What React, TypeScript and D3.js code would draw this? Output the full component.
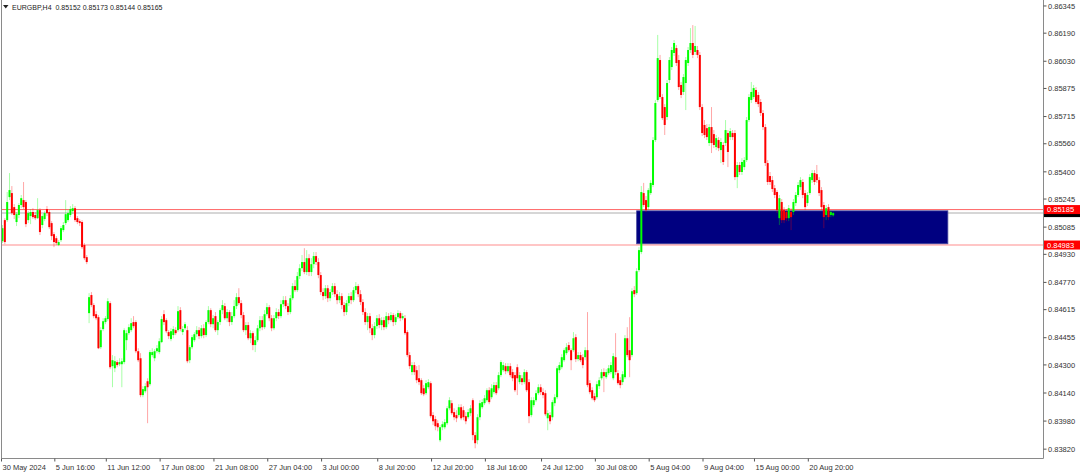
import * as d3 from 'd3';
import { useEffect, useRef } from 'react';

const WIDTH = 1080;
const HEIGHT = 473;
const BAR_SPACING = 2.34;

const SYMBOL = 'EURGBP,H4';
const LAST_OHLC = ['0.85152', '0.85173', '0.85144', '0.85165'];

// H4 candles (bar 0 = 30 May 2024 20:00)
const opens = [
    0.85005, 0.85125, 0.85125, 0.85256, 0.85279, 0.85199, 0.85114, 0.85154, 0.85211, 0.85239,
    0.85228, 0.85125, 0.85148, 0.85171, 0.85154, 0.85136, 0.85182, 0.85097, 0.85131, 0.85188,
    0.85171, 0.85108, 0.85045, 0.85022, 0.84983, 0.85011, 0.85068, 0.85108, 0.85125, 0.85154,
    0.85176, 0.85193, 0.85136, 0.85119, 0.85114, 0.84983, 0.84914, 0.84595, 0.84698, 0.84641,
    0.84589, 0.84572, 0.84401, 0.84504, 0.84544, 0.84561, 0.84652, 0.84293, 0.84281, 0.84316,
    0.84304, 0.84304, 0.84316, 0.84441, 0.84481, 0.84498, 0.84544, 0.84544, 0.84378, 0.84338,
    0.84128, 0.8415, 0.84207, 0.8419, 0.84356, 0.84338, 0.84378, 0.84373, 0.8443, 0.84589,
    0.84555, 0.84487, 0.84447, 0.8447, 0.84498, 0.84498, 0.84612, 0.84487, 0.84509, 0.84498,
    0.84327, 0.84401, 0.84441, 0.84475, 0.84498, 0.84464, 0.84509, 0.8447, 0.84544, 0.84612,
    0.84532, 0.84578, 0.84498, 0.84544, 0.84612, 0.84635, 0.84566, 0.84601, 0.84544, 0.84578,
    0.84635, 0.84686, 0.84652, 0.84584, 0.84498, 0.84527, 0.84452, 0.84481, 0.84413, 0.84441,
    0.84509, 0.84555, 0.84515, 0.84589, 0.84629, 0.84566, 0.84509, 0.84566, 0.84601, 0.84578,
    0.84646, 0.84669, 0.84635, 0.84601, 0.8468, 0.84749, 0.84726, 0.84806, 0.84851, 0.84886,
    0.84829, 0.84908, 0.84829, 0.84874, 0.8492, 0.84886, 0.84812, 0.84715, 0.84692, 0.84737,
    0.8468, 0.84715, 0.84749, 0.84703, 0.84669, 0.84692, 0.84641, 0.84601, 0.84652, 0.84692,
    0.84669, 0.84726, 0.84749, 0.84703, 0.84658, 0.84601, 0.84544, 0.84578, 0.84509, 0.8447,
    0.84521, 0.84566, 0.84527, 0.84555, 0.84515, 0.84578, 0.84555, 0.84584, 0.84544, 0.84572,
    0.84595, 0.84566, 0.84566, 0.84487, 0.84356, 0.84259, 0.84299, 0.8427, 0.84224, 0.84213,
    0.84167, 0.84139, 0.84173, 0.84196, 0.84014, 0.83991, 0.83968, 0.83871, 0.83945, 0.83945,
    0.83968, 0.84053, 0.84082, 0.84031, 0.84014, 0.84014, 0.84059, 0.84042, 0.84008, 0.84002,
    0.84025, 0.84099, 0.839, 0.83871, 0.84002, 0.84059, 0.84082, 0.84099, 0.84156, 0.84116,
    0.84145, 0.84185, 0.84167, 0.84242, 0.8427, 0.84293, 0.84264, 0.84293, 0.84259, 0.84242,
    0.84287, 0.84202, 0.84224, 0.84202, 0.84259, 0.84202, 0.84014, 0.84071, 0.84099, 0.84139,
    0.84173, 0.84145, 0.84139, 0.83996, 0.84014, 0.84002, 0.84082, 0.84116, 0.8427, 0.84287,
    0.84327, 0.84367, 0.84413, 0.84384, 0.84384, 0.84458, 0.84333, 0.84356, 0.84344, 0.84344,
    0.84384, 0.84196, 0.84156, 0.84122, 0.84116, 0.84179, 0.84224, 0.84259, 0.8423, 0.84253,
    0.84259, 0.84224, 0.84344, 0.84253, 0.84213, 0.84202, 0.8423, 0.84452, 0.84384, 0.84356,
    0.84726, 0.84709, 0.8484, 0.84943, 0.85279, 0.85239, 0.85199, 0.85279, 0.85325, 0.85581,
    0.85809, 0.86037, 0.85826, 0.85769, 0.85712, 0.85923, 0.85997, 0.86077, 0.86105, 0.86037,
    0.85895, 0.85855, 0.85906, 0.8602, 0.86094, 0.86134, 0.86083, 0.86094, 0.86066, 0.85769,
    0.85667, 0.85649, 0.85564, 0.85655, 0.85615, 0.85541, 0.85581, 0.85524, 0.85553, 0.85564,
    0.85621, 0.85598, 0.85621, 0.85621, 0.8537, 0.85439, 0.85399, 0.85427, 0.85467, 0.85695,
    0.85809, 0.85826, 0.85866, 0.85838, 0.85798, 0.85735, 0.85655, 0.8545, 0.85376, 0.85353,
    0.85307, 0.85285, 0.85136, 0.85228, 0.85182, 0.85171, 0.85136, 0.85171, 0.85171, 0.85222,
    0.85268, 0.85313, 0.85342, 0.85279, 0.85222, 0.85279, 0.85353, 0.85393, 0.85387, 0.85353,
    0.85296, 0.85211, 0.85154, 0.85199, 0.85154, 0.85152,
];

const highs = [
    0.85097, 0.85136, 0.85285, 0.85393, 0.85319, 0.85216, 0.85171, 0.85222, 0.85268, 0.85342,
    0.85239, 0.85176, 0.85188, 0.85193, 0.85171, 0.8525, 0.85193, 0.85159, 0.85176, 0.85205,
    0.85182, 0.85119, 0.85057, 0.85034, 0.85011, 0.85091, 0.85114, 0.85239, 0.85182, 0.85205,
    0.85216, 0.85205, 0.85148, 0.85131, 0.85125, 0.84994, 0.84926, 0.84709, 0.84715, 0.84652,
    0.84606, 0.84584, 0.84515, 0.84566, 0.84578, 0.8468, 0.84663, 0.84356, 0.8435, 0.84327,
    0.84338, 0.84338, 0.84509, 0.84498, 0.84532, 0.84566, 0.84578, 0.84555, 0.84395, 0.84367,
    0.84179, 0.84196, 0.84224, 0.84384, 0.84395, 0.8439, 0.84413, 0.84452, 0.84578, 0.84612,
    0.84566, 0.84498, 0.84509, 0.84521, 0.84515, 0.84635, 0.84629, 0.84521, 0.84544, 0.84521,
    0.84413, 0.8447, 0.84487, 0.84521, 0.84515, 0.84527, 0.84532, 0.84555, 0.84635, 0.84623,
    0.84584, 0.84601, 0.84555, 0.84623, 0.84669, 0.84652, 0.84618, 0.84612, 0.84601, 0.84669,
    0.84709, 0.84737, 0.84669, 0.84601, 0.84544, 0.84544, 0.84498, 0.84492, 0.84464, 0.84527,
    0.84578, 0.84578, 0.84612, 0.84652, 0.84641, 0.84584, 0.84584, 0.84623, 0.84618, 0.84669,
    0.84692, 0.84692, 0.84652, 0.84698, 0.84766, 0.84783, 0.84829, 0.84874, 0.84926, 0.84965,
    0.84954, 0.84931, 0.84908, 0.84943, 0.84943, 0.84908, 0.84829, 0.84737, 0.84755, 0.84755,
    0.84732, 0.84766, 0.84766, 0.84726, 0.84715, 0.84709, 0.84658, 0.84669, 0.84709, 0.84715,
    0.84743, 0.84772, 0.8476, 0.84726, 0.84675, 0.84623, 0.84595, 0.84595, 0.84532, 0.84544,
    0.84584, 0.84589, 0.84572, 0.84572, 0.84601, 0.84595, 0.84601, 0.84595, 0.84589, 0.84612,
    0.84606, 0.84595, 0.84584, 0.84498, 0.84373, 0.84316, 0.84316, 0.84293, 0.84299, 0.84224,
    0.84185, 0.84213, 0.84219, 0.84207, 0.84031, 0.84008, 0.83985, 0.83957, 0.83979, 0.83991,
    0.84065, 0.84116, 0.84099, 0.84053, 0.84042, 0.84076, 0.84076, 0.84065, 0.84031, 0.84048,
    0.84071, 0.8411, 0.83917, 0.84019, 0.84099, 0.84105, 0.84128, 0.84167, 0.84173, 0.8419,
    0.84202, 0.84202, 0.84259, 0.84327, 0.84316, 0.8431, 0.8431, 0.8431, 0.84276, 0.84259,
    0.84304, 0.84259, 0.84242, 0.84276, 0.8427, 0.84219, 0.84116, 0.84116, 0.84156, 0.8419,
    0.8419, 0.84167, 0.84156, 0.84042, 0.84031, 0.84099, 0.84133, 0.84293, 0.84316, 0.84361,
    0.84395, 0.84424, 0.8443, 0.84395, 0.84487, 0.84475, 0.84373, 0.84373, 0.84361, 0.84401,
    0.84601, 0.84213, 0.84173, 0.84139, 0.84207, 0.8423, 0.84276, 0.84281, 0.84276, 0.84299,
    0.84316, 0.84367, 0.84481, 0.8427, 0.8423, 0.84264, 0.8447, 0.84515, 0.84572, 0.84737,
    0.84749, 0.84851, 0.84971, 0.85319, 0.85337, 0.85262, 0.85307, 0.85353, 0.85598, 0.85809,
    0.8618, 0.86066, 0.85843, 0.85786, 0.85923, 0.86054, 0.86111, 0.86151, 0.86122, 0.86066,
    0.85912, 0.85957, 0.86054, 0.86111, 0.86219, 0.86236, 0.86231, 0.86117, 0.86083, 0.85786,
    0.85695, 0.85672, 0.85672, 0.85769, 0.85638, 0.8561, 0.85598, 0.85592, 0.8557, 0.85695,
    0.85638, 0.85649, 0.85638, 0.85638, 0.85456, 0.85456, 0.85478, 0.85484, 0.85712, 0.85843,
    0.85912, 0.85895, 0.85883, 0.85855, 0.85815, 0.85752, 0.85672, 0.85467, 0.85399, 0.85376,
    0.85325, 0.85296, 0.85268, 0.85245, 0.85199, 0.85188, 0.85211, 0.85193, 0.85245, 0.85285,
    0.85342, 0.8537, 0.85359, 0.85296, 0.85285, 0.85387, 0.8541, 0.8541, 0.85439, 0.8537,
    0.85313, 0.85228, 0.85211, 0.85216, 0.85182, 0.85173,
];

const lows = [
    0.84994, 0.84988, 0.85114, 0.85239, 0.85154, 0.85131, 0.85091, 0.85136, 0.85193, 0.85188,
    0.85085, 0.85108, 0.85102, 0.85131, 0.85125, 0.85131, 0.8504, 0.85079, 0.85119, 0.85148,
    0.85074, 0.85011, 0.84971, 0.84983, 0.84977, 0.85, 0.85057, 0.85097, 0.85114, 0.85142,
    0.85159, 0.85114, 0.85102, 0.85091, 0.8496, 0.84897, 0.84874, 0.84538, 0.84629, 0.84566,
    0.84555, 0.8439, 0.8439, 0.84492, 0.84532, 0.84549, 0.84276, 0.84173, 0.84259, 0.84287,
    0.84293, 0.84173, 0.84304, 0.84384, 0.8447, 0.84487, 0.84509, 0.84367, 0.84316, 0.84116,
    0.84116, 0.84139, 0.83968, 0.84179, 0.84344, 0.84321, 0.84367, 0.84361, 0.84424, 0.84527,
    0.84481, 0.84447, 0.84435, 0.84452, 0.8447, 0.84487, 0.84492, 0.8447, 0.84498, 0.8431,
    0.8431, 0.8439, 0.8443, 0.84458, 0.84447, 0.84452, 0.84452, 0.84458, 0.84532, 0.84515,
    0.84509, 0.84487, 0.8447, 0.84527, 0.84589, 0.84555, 0.84544, 0.84521, 0.84527, 0.84566,
    0.84618, 0.84641, 0.84566, 0.84487, 0.8447, 0.84441, 0.84424, 0.84384, 0.84373, 0.8443,
    0.84492, 0.84498, 0.84504, 0.84578, 0.84549, 0.84492, 0.84498, 0.84549, 0.84561, 0.84566,
    0.84629, 0.84618, 0.84584, 0.84589, 0.84669, 0.84715, 0.84715, 0.84789, 0.84834, 0.84817,
    0.84812, 0.84806, 0.84806, 0.84851, 0.84869, 0.84794, 0.84698, 0.84669, 0.84675, 0.84658,
    0.84663, 0.84698, 0.84686, 0.84646, 0.84652, 0.84618, 0.84578, 0.84584, 0.84635, 0.84646,
    0.84658, 0.84709, 0.84686, 0.84641, 0.84584, 0.84527, 0.84498, 0.84481, 0.84441, 0.84452,
    0.84504, 0.84509, 0.84498, 0.84498, 0.84504, 0.84532, 0.84544, 0.84521, 0.84527, 0.84561,
    0.84549, 0.84555, 0.8447, 0.84344, 0.84276, 0.84242, 0.84242, 0.84196, 0.84185, 0.84128,
    0.84122, 0.84128, 0.84162, 0.83996, 0.83957, 0.83928, 0.83922, 0.8386, 0.83928, 0.83934,
    0.83957, 0.84042, 0.84014, 0.83985, 0.83974, 0.84002, 0.83985, 0.83985, 0.83962, 0.83991,
    0.84008, 0.83871, 0.83825, 0.83848, 0.83985, 0.84048, 0.84071, 0.84088, 0.84076, 0.84105,
    0.84133, 0.84128, 0.84156, 0.8423, 0.84259, 0.84247, 0.84253, 0.8423, 0.84207, 0.84145,
    0.84128, 0.8419, 0.84185, 0.8419, 0.84145, 0.83968, 0.84002, 0.84059, 0.84088, 0.84128,
    0.84128, 0.8411, 0.84008, 0.83928, 0.83962, 0.83985, 0.84065, 0.84105, 0.84253, 0.84276,
    0.84316, 0.84356, 0.84373, 0.8427, 0.84373, 0.84316, 0.84321, 0.84316, 0.84281, 0.84327,
    0.84173, 0.84133, 0.84099, 0.84088, 0.84105, 0.84162, 0.84213, 0.84145, 0.84219, 0.84242,
    0.84247, 0.84213, 0.84242, 0.84185, 0.84167, 0.84185, 0.84219, 0.84344, 0.8423, 0.84344,
    0.84686, 0.84698, 0.84829, 0.84931, 0.85199, 0.85171, 0.85182, 0.85268, 0.85313, 0.8557,
    0.85798, 0.85815, 0.85695, 0.8561, 0.85695, 0.85906, 0.8598, 0.8606, 0.86003, 0.85866,
    0.8582, 0.85838, 0.85752, 0.86003, 0.86077, 0.86048, 0.86066, 0.86048, 0.85752, 0.85604,
    0.85592, 0.85581, 0.85547, 0.85507, 0.85535, 0.85524, 0.85518, 0.8545, 0.85439, 0.85547,
    0.85427, 0.85581, 0.85581, 0.85353, 0.85307, 0.85382, 0.85382, 0.8541, 0.85456, 0.85684,
    0.85792, 0.85815, 0.85786, 0.85769, 0.85718, 0.85638, 0.85433, 0.85325, 0.85325, 0.85285,
    0.8525, 0.85165, 0.85097, 0.85108, 0.85108, 0.85119, 0.85119, 0.85068, 0.85154, 0.85205,
    0.85256, 0.85296, 0.8525, 0.85182, 0.85205, 0.85268, 0.85337, 0.85325, 0.85337, 0.85262,
    0.85182, 0.85079, 0.85125, 0.85125, 0.85142, 0.85144,
];

const closes = [
    0.85079, 0.85, 0.85228, 0.85296, 0.85165, 0.85154, 0.85159, 0.85211, 0.8525, 0.85199,
    0.85102, 0.85165, 0.85171, 0.85142, 0.85136, 0.85182, 0.85057, 0.85148, 0.85165, 0.85165,
    0.85085, 0.85034, 0.85, 0.84994, 0.85, 0.85079, 0.85097, 0.85159, 0.85165, 0.85188,
    0.85193, 0.85125, 0.85114, 0.85108, 0.84971, 0.84908, 0.84886, 0.84686, 0.84641, 0.84578,
    0.84566, 0.84395, 0.84498, 0.84549, 0.84566, 0.84663, 0.84287, 0.84327, 0.84321, 0.84299,
    0.84316, 0.84321, 0.84498, 0.84481, 0.84515, 0.84538, 0.84521, 0.84378, 0.84327, 0.84128,
    0.84162, 0.84179, 0.84173, 0.84373, 0.84373, 0.84378, 0.84395, 0.84435, 0.84561, 0.84544,
    0.84492, 0.84464, 0.84492, 0.84504, 0.84481, 0.84606, 0.84504, 0.84504, 0.84532, 0.84321,
    0.84401, 0.84458, 0.84475, 0.84498, 0.84464, 0.84509, 0.8447, 0.84544, 0.84612, 0.84532,
    0.84566, 0.84498, 0.84544, 0.84612, 0.84641, 0.84566, 0.84601, 0.84544, 0.84578, 0.84635,
    0.84686, 0.84652, 0.84584, 0.84498, 0.84527, 0.84452, 0.84481, 0.84413, 0.84441, 0.84509,
    0.84555, 0.84515, 0.84589, 0.84629, 0.84566, 0.84509, 0.84566, 0.84601, 0.84578, 0.84646,
    0.84669, 0.84635, 0.84601, 0.8468, 0.84749, 0.84726, 0.84806, 0.84851, 0.84886, 0.84829,
    0.84908, 0.84829, 0.84874, 0.8492, 0.84886, 0.84812, 0.84715, 0.84692, 0.84737, 0.8468,
    0.84715, 0.84749, 0.84703, 0.84669, 0.84692, 0.84641, 0.84601, 0.84652, 0.84692, 0.84669,
    0.84726, 0.84749, 0.84703, 0.84658, 0.84601, 0.84544, 0.84578, 0.84509, 0.8447, 0.84521,
    0.84566, 0.84527, 0.84555, 0.84515, 0.84578, 0.84555, 0.84584, 0.84544, 0.84572, 0.84595,
    0.84566, 0.84578, 0.84481, 0.84356, 0.84293, 0.84299, 0.84259, 0.84213, 0.84202, 0.84139,
    0.84133, 0.84196, 0.84202, 0.84008, 0.83979, 0.83951, 0.83945, 0.83945, 0.83962, 0.83974,
    0.84053, 0.84099, 0.84025, 0.84002, 0.83996, 0.84059, 0.83996, 0.84002, 0.83979, 0.84031,
    0.84053, 0.839, 0.83854, 0.84002, 0.84082, 0.84088, 0.8411, 0.84156, 0.84088, 0.84167,
    0.84185, 0.84139, 0.84242, 0.84316, 0.84299, 0.84264, 0.84293, 0.84242, 0.84224, 0.84156,
    0.84224, 0.84242, 0.84202, 0.84259, 0.84156, 0.84008, 0.84099, 0.84099, 0.84139, 0.84173,
    0.84145, 0.84128, 0.84019, 0.84025, 0.83979, 0.84088, 0.84116, 0.84281, 0.84299, 0.84344,
    0.84384, 0.84401, 0.84384, 0.84327, 0.84452, 0.84333, 0.84356, 0.84327, 0.84299, 0.84384,
    0.84185, 0.84145, 0.8411, 0.84099, 0.8419, 0.84213, 0.84259, 0.84236, 0.84259, 0.84281,
    0.84299, 0.8435, 0.84259, 0.84196, 0.84185, 0.84247, 0.84452, 0.84356, 0.84327, 0.8472,
    0.84703, 0.84834, 0.84954, 0.85285, 0.85211, 0.85182, 0.85296, 0.85337, 0.85581, 0.85792,
    0.86048, 0.85826, 0.85706, 0.85667, 0.85906, 0.86037, 0.86094, 0.86134, 0.8602, 0.85883,
    0.85838, 0.8594, 0.86037, 0.86094, 0.86134, 0.86066, 0.86117, 0.86066, 0.85769, 0.85621,
    0.8561, 0.85598, 0.85655, 0.85564, 0.85553, 0.85592, 0.85535, 0.8557, 0.85456, 0.85638,
    0.85513, 0.85632, 0.85598, 0.8537, 0.85439, 0.85399, 0.85456, 0.85467, 0.85695, 0.85826,
    0.85855, 0.85877, 0.85798, 0.85786, 0.85735, 0.85655, 0.8545, 0.85342, 0.85342, 0.85302,
    0.85268, 0.85182, 0.8525, 0.85125, 0.85125, 0.85136, 0.85193, 0.85142, 0.85228, 0.85268,
    0.85325, 0.85353, 0.85268, 0.85199, 0.85268, 0.8537, 0.85393, 0.85342, 0.85353, 0.85279,
    0.85199, 0.85142, 0.85193, 0.85142, 0.85171, 0.85165,
];

const priceTicks = [
    0.86345, 0.8619, 0.8603, 0.85875, 0.85715, 0.8556, 0.854, 0.85245, 0.85085, 0.8493, 0.8477, 0.84615,
    0.84455, 0.843, 0.8414, 0.8398, 0.8382,
];

const timeLabels = [
    '30 May 2024', '5 Jun 16:00', '11 Jun 12:00', '17 Jun 08:00', '21 Jun 08:00', '27 Jun 04:00',
    '3 Jul 00:00', '8 Jul 20:00', '12 Jul 20:00', '18 Jul 16:00', '24 Jul 12:00', '30 Jul 08:00',
    '5 Aug 04:00', '9 Aug 04:00', '15 Aug 00:00', '20 Aug 20:00',
];
const timeLabelBars = [0, 23, 45, 68, 91, 114, 137, 161, 184, 207, 231, 254, 277, 300, 322, 345];

const levelPrices = [0.85185, 0.84983];
const bidPrice = 0.85165;
const zoneBars = [271, 404];
const zonePrices = [0.85178, 0.8499];

const FONT = '"Liberation Sans", Arial, sans-serif';

const App: React.FC = () => {
    const svgRef = useRef<SVGSVGElement | null>(null);

    useEffect(() => {
        if (!svgRef.current) return;
        const svg = d3.select(svgRef.current).attr('width', WIDTH).attr('height', HEIGHT);
        svg.selectAll('*').remove();

        const plot = { left: 1.5, right: 1043.5, top: 0, bottom: 458.5 };
        const n = closes.length;

        const xScale = d3
            .scaleLinear()
            .domain([0, n - 1])
            .range([2.5, 2.5 + BAR_SPACING * (n - 1)]);
        const yScale = d3.scaleLinear().domain([0.83764, 0.86379]).range([459, 0]);

        svg.append('rect').attr('width', WIDTH).attr('height', HEIGHT).attr('fill', '#ffffff');

        // bid line (current price)
        svg.append('line')
            .attr('x1', plot.left)
            .attr('x2', plot.right)
            .attr('y1', yScale(bidPrice))
            .attr('y2', yScale(bidPrice))
            .attr('stroke', '#c8c8c8')
            .attr('stroke-width', 1.5);

        // zone rectangle
        const zTop = yScale(zonePrices[0]);
        const zBottom = yScale(zonePrices[1]);
        svg.append('rect')
            .attr('x', xScale(zoneBars[0]))
            .attr('y', zTop)
            .attr('width', xScale(zoneBars[1]) - xScale(zoneBars[0]))
            .attr('height', zBottom - zTop)
            .attr('fill', '#000080')
            .attr('stroke', '#4a4aa0')
            .attr('stroke-width', 0.8);

        // horizontal levels
        levelPrices.forEach((p, i) => {
            svg.append('line')
                .attr('x1', plot.left)
                .attr('x2', plot.right)
                .attr('y1', yScale(p))
                .attr('y2', yScale(p))
                .attr('stroke', '#ff0000')
                .attr('stroke-opacity', i === 0 ? 0.6 : 0.3)
                .attr('stroke-width', i === 0 ? 1 : 1.6);
        });

        // candles
        const bars = d3.range(n);
        const g = svg.append('g');
        const color = (i: number) => (closes[i] >= opens[i] ? '#00ff00' : '#ff0000');

        g.selectAll('.wick')
            .data(bars)
            .join('line')
            .attr('class', 'wick')
            .attr('x1', (i) => xScale(i))
            .attr('x2', (i) => xScale(i))
            .attr('y1', (i) => yScale(highs[i]))
            .attr('y2', (i) => yScale(lows[i]))
            .attr('stroke', color)
            .attr('stroke-opacity', 0.35)
            .attr('stroke-width', 1);

        g.selectAll('.body')
            .data(bars)
            .join('rect')
            .attr('class', 'body')
            .attr('x', (i) => xScale(i) - 1)
            .attr('width', 2)
            .attr('y', (i) => yScale(Math.max(opens[i], closes[i])))
            .attr('height', (i) => Math.max(1, Math.abs(yScale(opens[i]) - yScale(closes[i]))))
            .attr('fill', color);

        // chart border
        svg.append('path')
            .attr('d', `M${plot.left},${plot.top}V${plot.bottom}H${plot.right}V${plot.top}`)
            .attr('fill', 'none')
            .attr('stroke', '#8a8a8a')
            .attr('stroke-width', 1);

        // price axis
        const yAxis = svg.append('g');
        priceTicks.forEach((p) => {
            const y = yScale(p);
            yAxis.append('line')
                .attr('x1', plot.right)
                .attr('x2', plot.right + 3)
                .attr('y1', y)
                .attr('y2', y)
                .attr('stroke', '#555');
            yAxis.append('text')
                .attr('x', 1048)
                .attr('y', y + 2.7)
                .attr('font-family', FONT)
                .attr('font-size', 7.5)
                .attr('fill', '#333')
                .text(p.toFixed(5));
        });

        // bid label (mostly hidden) and level labels
        svg.append('rect')
            .attr('x', 1044)
            .attr('y', yScale(bidPrice) - 4)
            .attr('width', 36)
            .attr('height', 8)
            .attr('fill', '#000');
        levelPrices.forEach((p) => {
            const y = yScale(p);
            svg.append('rect')
                .attr('x', 1044)
                .attr('y', y - 4.5)
                .attr('width', 36)
                .attr('height', 9)
                .attr('fill', '#ff0000');
            svg.append('text')
                .attr('x', 1047)
                .attr('y', y + 2.7)
                .attr('font-family', FONT)
                .attr('font-size', 7.5)
                .attr('fill', '#fff')
                .text(p.toFixed(5));
        });

        // time axis
        const xAxis = svg.append('g');
        timeLabelBars.forEach((b, i) => {
            const x = Math.max(plot.left, xScale(b) - 1.5);
            xAxis.append('line')
                .attr('x1', x)
                .attr('x2', x)
                .attr('y1', plot.bottom)
                .attr('y2', plot.bottom + 3)
                .attr('stroke', '#555');
            xAxis.append('text')
                .attr('x', x + 1)
                .attr('y', 469.5)
                .attr('font-family', FONT)
                .attr('font-size', 7.5)
                .attr('fill', '#333')
                .text(timeLabels[i]);
        });

        // header
        svg.append('path').attr('d', 'M3,5H8.5L5.75,8.5Z').attr('fill', '#222');
        svg.append('text')
            .attr('x', 12)
            .attr('y', 9.5)
            .attr('font-family', FONT)
            .attr('font-size', 7)
            .attr('fill', '#222')
            .attr('xml:space', 'preserve')
            .text(`${SYMBOL}  ${LAST_OHLC.join(' ')}`);
    }, []);

    return <svg ref={svgRef} style={{ position: 'fixed', left: 0, top: 0, display: 'block' }}></svg>;
};

export default App;
